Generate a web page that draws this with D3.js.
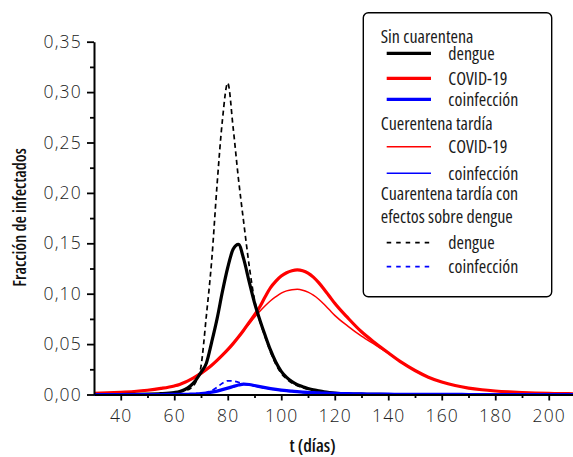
<!DOCTYPE html>
<html><head><meta charset="utf-8">
<script src="https://cdn.jsdelivr.net/npm/d3@7"></script>
<style>
html,body{margin:0;padding:0;background:#fff;}
svg{display:block;}
</style></head><body>
<svg id="c" width="573" height="457"></svg>
<script>
// ---------- data ----------
const days = [30,35,40,45,50,55,
  60,62,64,66,68,70,72,74,76,78,80,82,84,86,88,90,92,94,96,98,100,102,104,106,108,110,112,114,116,118,120,
  125,130,135,140,145,150,155,160,165,170,175,180,185,190,195,200,205,210];

// Sin cuarentena
const dengueSin = [0,0,0,0.0001,0.0003,0.0008,
  0.002,0.003,0.005,0.0085,0.014,0.022,0.031,0.052,0.075,0.102,0.126,0.144,0.149,0.134,0.112,0.091,0.074,0.0585,0.044,0.032,0.023,0.017,0.0128,0.0098,0.0077,0.006,0.0046,0.0036,0.0027,0.002,0.0014,
  0.0006,0.0003,0.0001,0,0,0,0,0,0,0,0,0,0,0,0,0,0,0];
const covidSin = [0.0012,0.0016,0.0022,0.003,0.0042,0.006,
  0.0085,0.010,0.0122,0.0148,0.0177,0.021,0.0248,0.029,0.0338,0.039,0.0445,0.0505,0.057,0.064,0.0715,0.079,0.087,0.097,0.106,0.1125,0.1175,0.1208,0.1228,0.1236,0.1228,0.1205,0.1165,0.111,0.1045,0.0975,0.0905,
  0.0757,0.0622,0.0514,0.0414,0.0318,0.0238,0.0172,0.0124,0.0089,0.0064,0.0047,0.0035,0.0026,0.0019,0.0014,0.0011,0.0009,0.0007];
const coinfSin = [0,0,0,0,0,0,
  0.0001,0.0001,0.0002,0.0003,0.0005,0.0008,0.0014,0.0023,0.0034,0.0048,0.0063,0.0079,0.0094,0.0103,0.0099,0.0089,0.0078,0.0068,0.0059,0.0051,0.0044,0.0038,0.0033,0.0028,0.0024,0.0021,0.0018,0.0016,0.0014,0.0012,0.0011,
  0.0008,0.0006,0.0004,0.0003,0.0002,0.0002,0.0001,0.0001,0.0001,0,0,0,0,0,0,0,0,0];

// Cuarentena tardía
const covidTardia = [0.0012,0.0016,0.0022,0.003,0.0042,0.006,
  0.0085,0.010,0.0122,0.0148,0.0177,0.021,0.0248,0.029,0.0338,0.039,0.0445,0.0505,0.0568,0.0635,0.070,0.0765,0.0825,0.088,0.093,0.097,0.1005,0.1028,0.104,0.1043,0.1035,0.1015,0.0985,0.0945,0.0895,0.084,0.0785,
  0.0676,0.0578,0.0494,0.041,0.0317,0.0238,0.0172,0.0124,0.0089,0.0064,0.0047,0.0035,0.0026,0.0019,0.0014,0.0011,0.0009,0.0007];
const coinfTardia = [0,0,0,0,0,0,
  0.0001,0.0001,0.0002,0.0003,0.0005,0.0008,0.0014,0.0023,0.0034,0.0048,0.0063,0.0079,0.0094,0.0102,0.0097,0.0087,0.0076,0.0065,0.0056,0.0048,0.0041,0.0035,0.003,0.0026,0.0022,0.0019,0.0016,0.0014,0.0012,0.0011,0.001,
  0.0007,0.0005,0.0004,0.0003,0.0002,0.0001,0.0001,0.0001,0,0,0,0,0,0,0,0,0,0];

// Cuarentena tardía con efectos sobre dengue
const dengueEfectos = [0,0,0,0.0001,0.0002,0.0006,
  0.0015,0.0025,0.004,0.006,0.012,0.028,0.078,0.133,0.208,0.272,0.309,0.265,0.214,0.170,0.128,0.094,0.073,0.057,0.042,0.030,0.021,0.0155,0.0115,0.0088,0.0068,0.0052,0.004,0.003,0.0022,0.0016,0.0011,
  0.0005,0.0002,0.0001,0,0,0,0,0,0,0,0,0,0,0,0,0,0,0];
const coinfEfectos = [0,0,0,0,0,0,
  0.0001,0.0001,0.0002,0.0003,0.0005,0.001,0.002,0.0038,0.0072,0.0112,0.0136,0.0134,0.0122,0.0106,0.0096,0.0086,0.0075,0.0064,0.0055,0.0047,0.004,0.0034,0.0029,0.0025,0.0021,0.0018,0.0015,0.0013,0.0011,0.001,0.0009,
  0.0006,0.0004,0.0003,0.0002,0.0001,0.0001,0,0,0,0,0,0,0,0,0,0,0,0];

const xTicks = [40,60,80,100,120,140,160,180,200];
const xMinor = [50,70,90,110,130,150,170,190,210];
const yTicks = [0,0.05,0.10,0.15,0.20,0.25,0.30,0.35];
const yMinor = [0.025,0.075,0.125,0.175,0.225,0.275,0.325];

const xTitle = "t (días)";
const yTitle = "Fracción de infectados";
const legendHeaders = ["Sin cuarentena","Cuerentena tardía","Cuarentena tardía con","efectos sobre dengue"];
const legendLabels = ["dengue","COVID-19","coinfección","COVID-19","coinfección","dengue","coinfección"];

// ---------- styles ----------
const series = [
  {v:covidSin,     c:"#ff0000", w:3.2, dash:null},
  {v:covidTardia,  c:"#ff0000", w:1.5, dash:null},
  {v:dengueSin,    c:"#000000", w:3.2, dash:null},
  {v:dengueEfectos,c:"#000000", w:1.7, dash:"5,3.5"},
  {v:coinfTardia,  c:"#0000ff", w:1.5, dash:null},
  {v:coinfSin,     c:"#0000ff", w:3.2, dash:null},
  {v:coinfEfectos, c:"#0000ff", w:1.7, dash:"5,3.5"}
];
const legendStyles = [
  {c:"#000000", w:3.3, dash:null},
  {c:"#ff0000", w:3.3, dash:null},
  {c:"#0000ff", w:3.3, dash:null},
  {c:"#ff0000", w:1.6, dash:null},
  {c:"#0000ff", w:1.6, dash:null},
  {c:"#000000", w:1.7, dash:"4.5,5"},
  {c:"#0000ff", w:1.7, dash:"4.5,5"}
];

// ---------- chart ----------
const svg = d3.select("#c");
const x = d3.scaleLinear().domain([30,210]).range([94,575.5]);
const y = d3.scaleLinear().domain([0,0.35]).range([394.5,41.7]);
const loc = d3.formatLocale({decimal:",",thousands:".",grouping:[3],currency:["",""]});
const fmt = loc.format(".2f");

const tickFont = "'Open Sans', sans-serif";
const condFont = "'Open Sans', sans-serif";

svg.append("defs").append("clipPath").attr("id","clip")
  .append("rect").attr("x",x(30)).attr("y",0).attr("width",x(210)-x(30)).attr("height",y(0)+3);

const line = d3.line().x((d,i)=>x(days[i])).y(d=>y(d)).curve(d3.curveMonotoneX);
const g = svg.append("g").attr("clip-path","url(#clip)");
series.forEach(s=>{
  g.append("path").datum(s.v).attr("d",line)
    .attr("fill","none").attr("stroke",s.c).attr("stroke-width",s.w)
    .attr("stroke-dasharray",s.dash).attr("stroke-linejoin","round");
});

// axes
function styleAxis(sel){
  sel.select(".domain").attr("stroke","#000").attr("stroke-width",2);
  sel.selectAll(".tick line").attr("stroke","#000").attr("stroke-width",1.8);
  sel.selectAll(".tick text").attr("fill","#222").style("font-family",tickFont)
    .style("font-weight","300").style("font-size","17.5px").style("letter-spacing","1.2px");
}
const gy = svg.append("g").attr("transform",`translate(${x(30)},0)`)
  .call(d3.axisLeft(y).tickValues(yTicks).tickSize(7).tickSizeOuter(0).tickPadding(5).tickFormat(fmt));
styleAxis(gy);
const gyMinor = svg.append("g").attr("transform",`translate(${x(30)},0)`)
  .call(d3.axisLeft(y).tickValues(yMinor).tickSize(4).tickSizeOuter(0).tickFormat(""));
gyMinor.select(".domain").remove();
gyMinor.selectAll(".tick line").attr("stroke","#000").attr("stroke-width",1.8);

const gx = svg.append("g").attr("transform",`translate(0,${y(0)})`)
  .call(d3.axisBottom(x).tickValues(xTicks).tickSize(6).tickSizeOuter(0).tickPadding(9).tickFormat(d3.format("d")));
styleAxis(gx);
const gxMinor = svg.append("g").attr("transform",`translate(0,${y(0)})`)
  .call(d3.axisBottom(x).tickValues(xMinor).tickSize(3.5).tickSizeOuter(0).tickFormat(""));
gxMinor.select(".domain").remove();
gxMinor.selectAll(".tick line").attr("stroke","#000").attr("stroke-width",1.8);

// titles
svg.append("text").attr("x",312.5).attr("y",451.5).attr("text-anchor","middle")
  .style("font-family",condFont).style("font-stretch","condensed").style("font-weight","600")
  .style("font-size","18px").attr("fill","#111").text(xTitle);
svg.append("text").attr("transform","translate(26,217.5) rotate(-90)").attr("text-anchor","middle")
  .style("font-family",condFont).style("font-stretch","condensed").style("font-weight","600")
  .style("font-size","17px").attr("fill","#111").text(yTitle);

// legend
const lg = svg.append("g");
lg.append("rect").attr("x",363.3).attr("y",12.7).attr("width",188.4).attr("height",284)
  .attr("rx",5).attr("fill","#fff").attr("stroke","#000").attr("stroke-width",1.4);
function legendText(tx,ty,t){
  lg.append("text").attr("x",tx).attr("y",ty).text(t)
    .style("font-family",condFont).style("font-stretch","condensed").style("font-size","18px").attr("fill","#1a1a1a");
}
const headerY = [42.7,130,200,222.7];
legendHeaders.forEach((t,i)=> legendText(380.7, headerY[i], t));
const itemY = [53.3,78.3,99.3,146.7,173.3,242.7,266.7];
legendLabels.forEach((t,i)=>{
  const s = legendStyles[i];
  lg.append("line").attr("x1",386.7).attr("x2",431).attr("y1",itemY[i]).attr("y2",itemY[i])
    .attr("stroke",s.c).attr("stroke-width",s.w).attr("stroke-dasharray",s.dash);
  legendText(448.3, itemY[i]+6.3, t);
});
</script>
</body></html>
